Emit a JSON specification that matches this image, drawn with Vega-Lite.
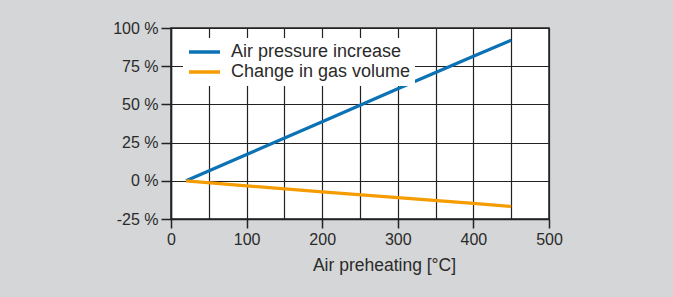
{
  "$schema": "https://vega.github.io/schema/vega-lite/v6.json",
  "autosize": {"type": "none"},
  "width": 378,
  "height": 191,
  "padding": {"left": 171, "top": 28, "right": 124, "bottom": 78},
  "background": "#d5d6d7",
  "config": {
    "font": "Liberation Sans",
    "view": {"fill": "white", "stroke": "#222", "strokeWidth": 1.5},
    "axis": {
      "domainColor": "#222",
      "domainWidth": 1.5,
      "tickColor": "#222",
      "tickWidth": 1.5,
      "gridColor": "#222",
      "gridWidth": 1.2,
      "gridOpacity": 1,
      "labelColor": "#2a2a2a",
      "labelFontSize": 16,
      "labelFont": "Liberation Sans",
      "labelFlush": false,
      "titleFont": "Liberation Sans",
      "titleColor": "#2a2a2a",
      "titleFontSize": 17.5,
      "titleFontWeight": "normal"
    }
  },
  "data": {
    "values": [
      {"t": 20, "v": 0, "s": "Air pressure increase"},
      {"t": 100, "v": 17.2, "s": "Air pressure increase"},
      {"t": 200, "v": 38.6, "s": "Air pressure increase"},
      {"t": 300, "v": 60.2, "s": "Air pressure increase"},
      {"t": 400, "v": 81.5, "s": "Air pressure increase"},
      {"t": 450, "v": 92, "s": "Air pressure increase"},
      {"t": 20, "v": 0, "s": "Change in gas volume"},
      {"t": 100, "v": -3.3, "s": "Change in gas volume"},
      {"t": 200, "v": -7.2, "s": "Change in gas volume"},
      {"t": 300, "v": -11, "s": "Change in gas volume"},
      {"t": 400, "v": -14.8, "s": "Change in gas volume"},
      {"t": 450, "v": -16.8, "s": "Change in gas volume"}
    ]
  },
  "mark": {"type": "line", "strokeWidth": 3.2, "strokeCap": "butt"},
  "encoding": {
    "x": {
      "field": "t",
      "type": "quantitative",
      "scale": {"domain": [0, 500], "nice": false, "zero": false},
      "axis": {
        "title": "Air preheating [°C]",
        "titleX": 213,
        "titleAlign": "center",
        "values": [0, 50, 100, 150, 200, 250, 300, 350, 400, 450, 500],
        "labelExpr": "datum.value % 100 == 0 ? datum.label : ''",
        "tickOpacity": {"condition": {"test": "datum.value % 100 == 0", "value": 1}, "value": 0},
        "tickSize": 9,
        "labelPadding": 3,
        "titlePadding": 9,
        "grid": true
      }
    },
    "y": {
      "field": "v",
      "type": "quantitative",
      "scale": {"domain": [-25, 100], "nice": false, "zero": false},
      "axis": {
        "title": null,
        "values": [-25, 0, 25, 50, 75, 100],
        "labelExpr": "datum.value + ' %'",
        "tickSize": 10,
        "labelPadding": 3,
        "grid": true
      }
    },
    "color": {
      "field": "s",
      "type": "nominal",
      "scale": {"range": ["#0b72b5", "#f59c00"]},
      "legend": {
        "title": null,
        "orient": "none",
        "legendX": 12,
        "legendY": 10,
        "fillColor": "white",
        "padding": 4,
        "symbolType": "stroke",
        "symbolSize": 961,
        "symbolStrokeWidth": 3.5,
        "labelFontSize": 18,
        "labelFont": "Liberation Sans",
        "labelColor": "#2a2a2a",
        "labelLimit": 400,
        "labelOffset": 9,
        "clipHeight": 20,
        "rowPadding": 0
      }
    }
  }
}
